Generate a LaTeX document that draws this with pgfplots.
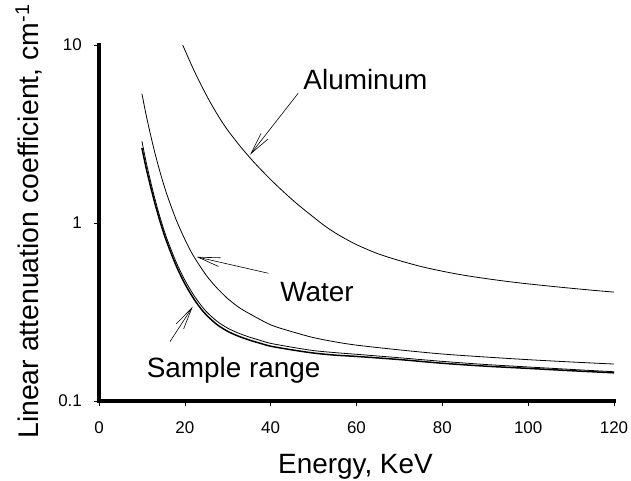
\documentclass[border=0pt]{standalone}
\usepackage{fontspec}
\setmainfont{Liberation Sans}
\usepackage{pgfplots}
\usepackage{pgfplotstable}
\pgfplotsset{compat=1.18}
\usetikzlibrary{arrows.meta}

% linear attenuation coefficient, cm^-1, vs energy, keV
\pgfplotstableread{
E mu
19.5 10
22 7.31
24 5.83
26 4.73
28 3.92
30 3.32
33 2.68
36 2.21
39 1.855
42 1.576
46 1.29
50 1.078
53 0.948
56 0.852
60 0.756
65 0.672
70 0.615
75 0.570
80 0.536
85 0.509
90 0.488
95 0.470
100 0.455
105 0.442
110 0.430
115 0.419
120 0.409
}\aluminum

\pgfplotstableread{
E mu
10 5.33
11 4.03
12 3.14
13 2.49
14 2.02
15 1.67
16 1.405
18 1.04
20 0.81
22 0.654
25 0.508
27.5 0.431
30 0.376
32.5 0.337
35 0.31
40 0.268
45 0.245
50 0.227
55 0.215
60 0.206
70 0.1937
80 0.1837
90 0.1767
100 0.1707
110 0.1657
120 0.1613
}\water

\pgfplotstableread{
E mu
10 2.88
11 2.19
12 1.72
13 1.375
14 1.123
15 0.935
16 0.795
18 0.601
20 0.478
22 0.396
23.5 0.352
25 0.318
27.5 0.2805
30 0.2565
32.5 0.2407
35 0.2288
37.5 0.2193
40 0.2108
45 0.2005
50 0.192
55 0.187
60 0.183
70 0.175
80 0.167
90 0.1604
100 0.1553
110 0.1505
120 0.146
}\sampleHigh

\pgfplotstableread{
E mu
10 2.64
11 2.03
12 1.61
13 1.297
14 1.065
15 0.89
16 0.759
18 0.574
20 0.456
22 0.378
23.5 0.336
25 0.3045
27.5 0.2687
30 0.2462
32.5 0.2313
35 0.2201
37.5 0.2112
40 0.2032
45 0.1937
50 0.186
55 0.181
60 0.178
70 0.171
80 0.163
90 0.157
100 0.1525
110 0.148
120 0.144
}\sampleLow

\begin{document}
\begin{tikzpicture}
    \begin{axis}[
        name=ax,
        scale only axis,
        width=515bp, height=356bp,
        xmin=0, xmax=120,
        ymode=log, ymin=0.1, ymax=10,
        axis lines=left,
        axis line style={-, line width=4bp, line cap=rect},
        xtick={0,20,40,60,80,100,120},
        xticklabels={0,20,40,60,80,100,120},
        ytick={0.1,1,10},
        yticklabels={0.1,1,10},
        yminorticks=false,
        tick align=outside,
        major tick length=5bp,
        tick style={black, line width=0.6bp},
        tick label style={font=\fontsize{17}{19}\selectfont},
        xticklabel style={anchor=north, inner sep=0pt, yshift=-16bp},
        yticklabel style={anchor=east, inner sep=0pt, xshift=-12bp},
        xlabel={Energy, KeV},
        ylabel={Linear attenuation coefficient, cm\textsuperscript{-1}},
        xlabel style={font=\fontsize{28}{30}\selectfont,
            at={(axis description cs:0.498,-0.205)}, anchor=base, inner sep=0pt},
        ylabel style={font=\fontsize{28.5}{30}\selectfont,
            at={(axis description cs:-0.1184,0.504)}, anchor=base, inner sep=0pt},
        clip=false,
    ]
        \addplot[black, line width=0.8bp, smooth] table[x=E, y=mu] {\aluminum};
        \addplot[black, line width=0.8bp, smooth] table[x=E, y=mu] {\water};
        \addplot[black, line width=0.8bp, smooth] table[x=E, y=mu] {\sampleHigh};
        \addplot[black, line width=1.5bp, smooth] table[x=E, y=mu] {\sampleLow};

        \draw[line width=0.6bp, -{Straight Barb[length=22bp, width=9bp]}]
            (axis cs:46.4,5.35) -- (axis cs:35.2,2.42);
        \draw[line width=0.6bp, -{Straight Barb[length=22bp, width=9bp]}]
            (axis cs:39.45,0.522) -- (axis cs:22.76,0.645);
        \draw[line width=0.6bp, -{Straight Barb[length=22bp, width=9bp]}]
            (axis cs:16.54,0.2155) -- (axis cs:21.83,0.3387);

        \node[anchor=base west, inner sep=0pt, font=\fontsize{28}{30}\selectfont]
            at (axis cs:47.6,5.59) {Aluminum};
        \node[anchor=base west, inner sep=0pt, font=\fontsize{28}{30}\selectfont]
            at (axis cs:42.2,0.3613) {Water};
        \node[anchor=base west, inner sep=0pt, font=\fontsize{28}{30}\selectfont]
            at (axis cs:11.1,0.1364) {Sample range};
    \end{axis}
    \pgfresetboundingbox
    \path ([shift={(-99bp,-80bp)}]ax.south west) rectangle ([shift={(17bp,45bp)}]ax.north east);
\end{tikzpicture}
\end{document}
